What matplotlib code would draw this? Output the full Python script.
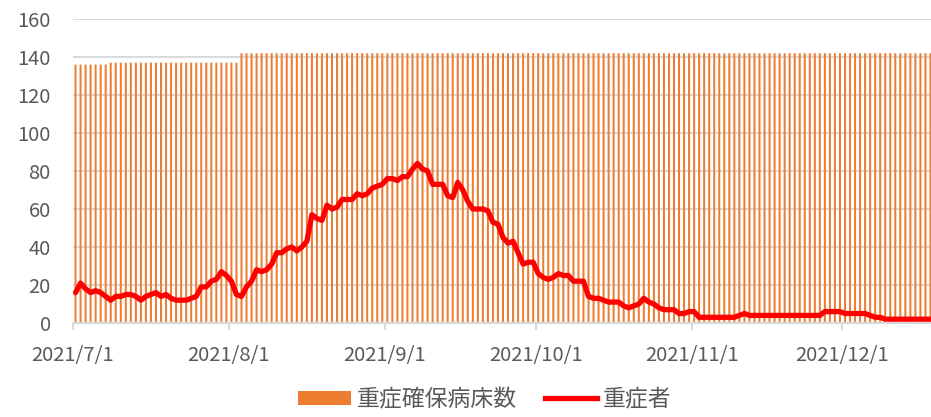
import matplotlib
matplotlib.use("Agg")
import matplotlib.pyplot as plt
import numpy as np
import pandas as pd
from matplotlib.patches import Patch
from matplotlib.lines import Line2D

plt.rcParams['font.family'] = ['Noto Sans CJK JP', 'DejaVu Sans']

# ---- data ----
start_date = "2021-07-01"
end_date = "2021-12-18"

beds = [136] * 7 + [137] * 26 + [142] * 138   # 重症確保病床数

severe = [
    16, 21, 18, 16, 17, 16, 14, 12, 14, 14,
    15, 15, 14, 12, 14, 15, 16, 14, 15, 13,
    12, 12, 12, 13, 14, 19, 19, 22, 23, 27,
    25, 22, 15, 14, 19, 22, 28, 27, 28, 31,
    37, 37, 39, 40, 38, 40, 43, 57, 55, 54,
    62, 60, 61, 65, 65, 65, 68, 67, 68, 71,
    72, 73, 76, 76, 75, 77, 77, 81, 84, 81,
    80, 73, 73, 73, 67, 66, 74, 70, 64, 60,
    60, 60, 59, 53, 52, 45, 42, 43, 37, 31,
    32, 32, 26, 24, 23, 24, 26, 25, 25, 22,
    22, 22, 14, 13, 13, 12, 11, 11, 11, 9,
    8, 9, 10, 13, 11, 10, 8, 7, 7, 7,
    5, 5, 6, 6, 3, 3, 3, 3, 3, 3,
    3, 3, 4, 5, 4, 4, 4, 4, 4, 4,
    4, 4, 4, 4, 4, 4, 4, 4, 4, 6,
    6, 6, 6, 5, 5, 5, 5, 5, 4, 3,
    3, 2, 2, 2, 2, 2, 2, 2, 2, 2,
    2,
]

tick_labels = ["2021/7/1", "2021/8/1", "2021/9/1", "2021/10/1", "2021/11/1", "2021/12/1"]
y_ticks = [0, 20, 40, 60, 80, 100, 120, 140, 160]

series_names = ["重症確保病床数", "重症者"]

# ---- plot ----
dates = pd.date_range(start_date, end_date, freq="D")
half = pd.Timedelta(hours=12)

W, H = 931, 417
fig = plt.figure(figsize=(W / 100, H / 100), dpi=100)
ax = fig.add_axes([73 / W, 1 - 323 / H, (933 - 73) / W, (323 - 19) / H])

bar_color = "#ED7D31"
line_color = "#FF0000"
grid_color = "#D9D9D9"
text_color = "#595959"

bars = ax.bar(dates, beds, width=0.4, color=bar_color, zorder=2, linewidth=0)
for b in bars:
    b.set_snap(False)
ax.plot(dates, severe, color=line_color, linewidth=3.8, zorder=3,
        solid_joinstyle="round", solid_capstyle="round")

ax.set_ylim(0, 160)
ax.set_yticks(y_ticks)
ax.yaxis.grid(True, color=grid_color, linewidth=1.4, zorder=0)
ax.set_axisbelow(True)

ax.set_xlim(dates[0] - half, dates[-1] + half)
tick_pos = pd.to_datetime([t.replace("/", "-") for t in tick_labels]) - half
ax.set_xticks(tick_pos)
ax.set_xticklabels(tick_labels)

for s in ["top", "right", "left"]:
    ax.spines[s].set_visible(False)
ax.spines["bottom"].set_color(grid_color)
ax.spines["bottom"].set_linewidth(1.6)
ax.spines["bottom"].set_zorder(4)

ax.tick_params(axis="y", length=0, pad=16, labelsize=14.5, labelcolor=text_color)
ax.tick_params(axis="x", length=5, width=1.4, color=grid_color, pad=11,
               labelsize=14.5, labelcolor=text_color)

handles = [Patch(facecolor=bar_color, edgecolor="none"),
           Line2D([0], [0], color=line_color, linewidth=3.8)]
fig.legend(handles, series_names, loc="center", bbox_to_anchor=(0.521, 0.042),
           ncol=2, frameon=False, fontsize=16.5, handlelength=2.3,
           handleheight=0.55, handletextpad=0.25, columnspacing=1.2,
           labelcolor=text_color, borderpad=0.1)

fig.savefig("out.png", dpi=100)
